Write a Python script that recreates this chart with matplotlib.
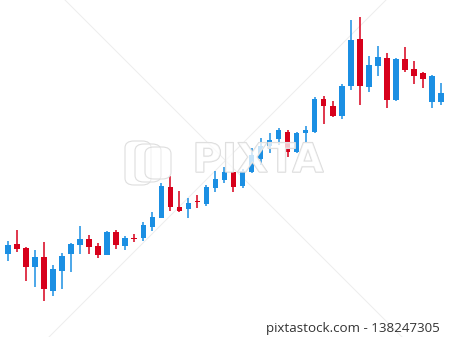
import matplotlib
matplotlib.use("Agg")
import matplotlib.pyplot as plt
import matplotlib.patheffects as pe
from matplotlib.lines import Line2D
from matplotlib.patches import FancyBboxPatch
import numpy as np

# candle data (arbitrary price units)
opens = [83, 93, 89, 70, 80, 46, 66, 83, 92, 98, 91, 82, 105, 91, 99, 99, 110,
         119, 150, 130, 128, 136, 133, 149, 157, 165, 151, 165, 178, 191, 198,
         205, 185, 204, 205, 238, 231, 221, 251, 298, 250, 271, 279, 237, 278,
         268, 264, 235, 235]
highs = [96, 107, 90, 87, 95, 72, 84, 94, 111, 102, 94, 106, 107, 101, 103, 115,
         125, 154, 161, 146, 139, 142, 152, 166, 170, 165, 168, 189, 199, 204,
         209, 207, 205, 211, 240, 241, 236, 253, 317, 320, 281, 291, 284, 279,
         290, 276, 265, 262, 254]
lows = [76, 85, 56, 50, 36, 41, 48, 65, 83, 83, 79, 82, 88, 87, 95, 96, 106,
        119, 126, 125, 119, 129, 131, 145, 154, 145, 149, 164, 172, 184, 192,
        180, 184, 195, 204, 213, 220, 218, 247, 232, 245, 261, 229, 236, 265,
        253, 249, 229, 232]
closes = [92, 88, 70, 80, 48, 68, 81, 93, 98, 90, 82, 105, 92, 99, 98, 112, 120,
          151, 130, 126, 134, 135, 150, 158, 165, 150, 166, 182, 191, 197, 207,
          185, 204, 207, 238, 231, 221, 251, 297, 251, 272, 280, 237, 278, 267,
          261, 258, 261, 244]

up_color = "#1b8fe3"
down_color = "#d7001b"

fig = plt.figure(figsize=(4.5, 3.37), dpi=100)
ax = fig.add_axes([0, 0, 1, 1])

o = np.array(opens)
c = np.array(closes)
h = np.array(highs)
l = np.array(lows)
x = np.arange(len(o))
colors = [up_color if cc >= oo else down_color for oo, cc in zip(o, c)]

# wicks
ax.vlines(x, l, h, colors=colors, linewidth=1.1, zorder=2)
# bodies
bottom = np.minimum(o, c)
height = np.maximum(np.abs(c - o), 1.2)
ax.bar(x, height, bottom=bottom, width=0.62, color=colors, zorder=3)

step = 9.02
ax.set_xlim(-8 / step, (450 - 8) / step)
ax.set_ylim(0, 337)
ax.axis("off")

# faint watermark lines
for (x0, y0, x1, y1) in [(65, 0, 402, 337), (49, 337, 386, 0)]:
    fig.add_artist(Line2D([x0 / 450, x1 / 450], [1 - y0 / 337, 1 - y1 / 337],
                          transform=fig.transFigure, color="#ededed",
                          linewidth=0.7, zorder=0))

# watermark logo (rough)
for i in range(3):
    fig.add_artist(FancyBboxPatch(((125 + i * 10) / 450, 1 - (185 - i * 3) / 337),
                                  26 / 450, (44 - i * 6) / 337,
                                  boxstyle="round,pad=0,rounding_size=0.02",
                                  transform=fig.transFigure, facecolor=(1, 1, 1, 0.45),
                                  edgecolor="#dedede", linewidth=0.8, zorder=4))

wm = fig.text(258 / 450, 1 - 161 / 337, "PIXTA", ha="center", va="center",
              fontsize=29, fontweight="bold", family="DejaVu Sans",
              color=(1, 1, 1, 0.5), zorder=5)
wm.set_path_effects([pe.Stroke(linewidth=1.0, foreground="#d9d9d9"), pe.Normal()])

fig.text(440 / 450, 1 - 332 / 337, "pixtastock.com - 138247305", ha="right",
         va="baseline", fontsize=9.6, family="Open Sans", color="#333333")

fig.savefig("out.png", dpi=100, facecolor="white")
